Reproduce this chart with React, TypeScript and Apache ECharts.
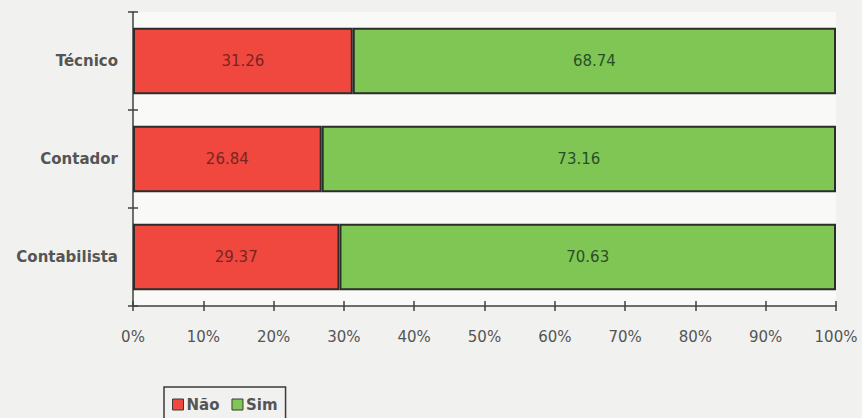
import React, { useEffect, useRef } from "react";
import * as echarts from "echarts";

// Profissão dos respondentes e percentagem de Não / Sim
const categories = ["Técnico", "Contador", "Contabilista"];
const naoValues = [31.26, 26.84, 29.37];
const simValues = [68.74, 73.16, 70.63];
const seriesNames = ["Não", "Sim"];

const FONT = "'DejaVu Sans', Arial, sans-serif";

export default function App() {
  const ref = useRef<HTMLDivElement>(null);

  useEffect(() => {
    if (!ref.current) return;
    const chart = echarts.init(ref.current, null, { renderer: "svg" });

    const barBorder = { borderColor: "#2c2c2a", borderWidth: 2 };
    const labelFmt = (p: any) => Number(p.value).toFixed(2);

    chart.setOption({
      animation: false,
      backgroundColor: "#f1f1ef",
      textStyle: { fontFamily: FONT },
      grid: {
        left: 133,
        right: 26,
        top: 12,
        bottom: 112,
        show: true,
        backgroundColor: "#f9f9f7",
        borderWidth: 0,
      },
      legend: {
        data: seriesNames,
        left: 164,
        top: 387,
        orient: "horizontal",
        itemWidth: 11,
        itemHeight: 11,
        itemGap: 12,
        padding: [10, 8, 14, 8],
        borderColor: "#3a3a3a",
        borderWidth: 1.5,
        icon: "rect",
        itemStyle: { borderWidth: 1, borderColor: "#3a3a3a" },
        textStyle: {
          fontFamily: FONT,
          fontSize: 15,
          fontWeight: "bold",
          color: "#555555",
          padding: [0, 0, 0, -2],
        },
      },
      xAxis: [
        {
          type: "value",
          min: 0,
          max: 100,
          interval: 10,
          axisLine: { show: true, lineStyle: { color: "#404040", width: 1.5 } },
          axisTick: { show: true, length: 5, lineStyle: { color: "#404040", width: 1.5 } },
          splitLine: { show: false },
          axisLabel: {
            formatter: "{value}%",
            fontFamily: FONT,
            fontSize: 15,
            color: "#555555",
            margin: 23,
          },
        },
        {
          type: "value",
          position: "bottom",
          min: 0,
          max: 100,
          interval: 10,
          axisLine: { show: false },
          axisTick: { show: true, inside: true, length: 5, lineStyle: { color: "#404040", width: 1.5 } },
          splitLine: { show: false },
          axisLabel: { show: false },
        },
      ],
      yAxis: [
        {
          type: "category",
          data: categories,
          inverse: true,
          axisLine: { show: true, lineStyle: { color: "#404040", width: 1.5 } },
          axisTick: { show: true, length: 5, lineStyle: { color: "#404040", width: 1.5 } },
          axisLabel: {
            fontFamily: FONT,
            fontSize: 15,
            fontWeight: "bold",
            color: "#555555",
            margin: 15,
          },
        },
        {
          type: "category",
          data: categories,
          inverse: true,
          position: "left",
          axisLine: { show: false },
          axisTick: { show: true, inside: true, length: 5, lineStyle: { color: "#404040", width: 1.5 } },
          axisLabel: { show: false },
        },
      ],
      series: [
        {
          name: seriesNames[0],
          type: "bar",
          stack: "total",
          data: naoValues,
          barCategoryGap: "32%",
          itemStyle: { color: "#f0483f", ...barBorder },
          label: {
            show: true,
            position: "inside",
            formatter: labelFmt,
            fontFamily: FONT,
            fontSize: 15,
            color: "#7a2420",
          },
        },
        {
          name: seriesNames[1],
          type: "bar",
          stack: "total",
          data: simValues,
          barCategoryGap: "32%",
          itemStyle: { color: "#7fc655", ...barBorder },
          label: {
            show: true,
            position: "inside",
            formatter: labelFmt,
            fontFamily: FONT,
            fontSize: 15,
            color: "#2a4f28",
          },
        },
      ],
    });

    return () => chart.dispose();
  }, []);

  return (
    <div
      ref={ref}
      style={{ position: "fixed", left: 0, top: 0, width: 862, height: 418 }}
    />
  );
}
